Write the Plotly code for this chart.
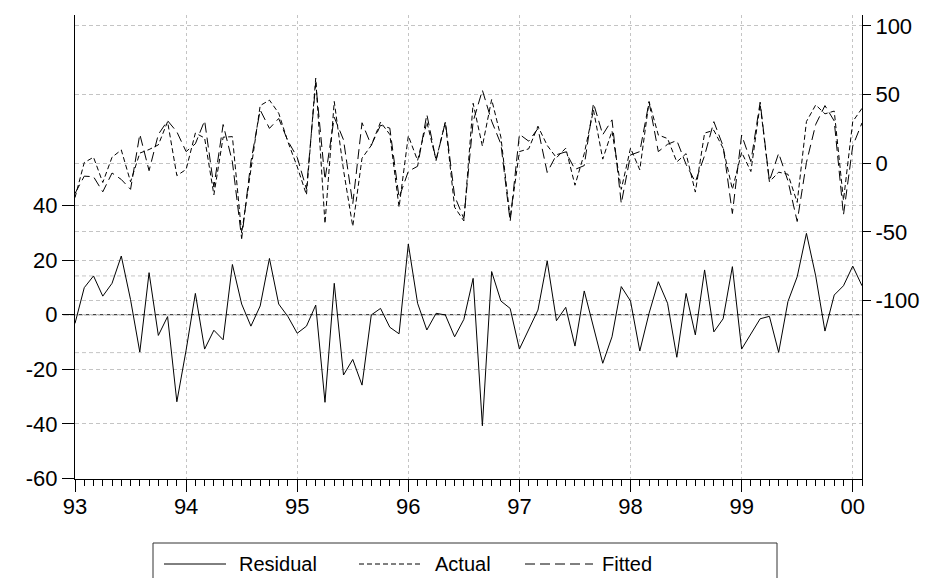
import plotly.graph_objects as go

# Monthly periods 1993M01 .. 2000M02
periods = [f"{1993 + (m // 12)}M{(m % 12) + 1:02d}" for m in range(86)]
year_labels = ["93", "94", "95", "96", "97", "98", "99", "00"]

residual = [-3.2, 9.9, 14.2, 6.8, 11.5, 21.5, 5.5, -13.7, 15.4, -7.6, -0.7, -31.9,
            -13.0, 7.8, -12.6, -5.7, -9.2, 18.4, 3.9, -4.2, 3.2, 20.6, 3.9, -0.7,
            -6.8, -4.2, 3.5, -32.1, 11.5, -22.1, -16.4, -25.8, -0.1, 2.3, -4.6, -7.0,
            25.9, 4.2, -5.6, 0.5, -0.1, -8.1, -1.7, 13.3, -40.7, 15.8, 5.0, 2.3,
            -12.6, -5.6, 1.7, 19.7, -2.2, 2.7, -11.5, 8.7, -5.0, -17.8, -8.1, 10.3,
            5.0, -13.3, 0.5, 12.1, 4.2, -15.6, 7.8, -7.4, 16.4, -6.3, -1.5, 17.6,
            -12.6, -7.2, -1.5, -0.6, -13.8, 4.8, 13.9, 29.8, 14.2, -6.0, 7.2, 10.6,
            17.8, 10.6]

actual = [-25.0, 0.5, 4.4, -14.0, 4.4, 9.7, -13.5, 7.4, 10.0, 13.4, 30.3, -9.0,
          -4.5, 22.0, 18.4, -23.0, 19.0, 19.4, -51.0, -3.0, 42.0, 46.0, 36.5, 15.5,
          -2.5, -23.0, 62.0, -44.0, 45.0, -5.0, -46.0, 3.7, 13.0, 30.0, 21.0, -32.0,
          20.0, 2.0, 30.0, 2.5, 30.0, -32.0, -42.0, 43.7, 12.5, 46.5, 19.0, -40.0,
          8.5, 10.5, 27.0, 13.0, 4.0, 11.0, -16.0, 7.0, 38.7, 3.0, 23.5, -19.0,
          11.0, -4.8, 45.0, 20.6, 18.0, 1.0, 7.0, -21.0, 22.0, 24.0, 11.0, -19.0,
          8.0, -6.0, 43.0, -13.5, -6.5, -8.0, -28.5, 30.4, 42.5, 36.0, 38.0, -27.0,
          30.4, 40.0]

fitted = [-22.0, -9.4, -9.8, -20.8, -7.1, -11.8, -19.0, 21.1, -5.4, 21.0, 31.0, 22.9,
          8.5, 14.2, 31.0, -17.3, 28.2, 1.0, -54.9, 1.2, 38.8, 25.4, 32.6, 16.2,
          4.3, -18.8, 58.5, -11.9, 33.5, 17.1, -29.6, 29.5, 13.1, 27.7, 25.6, -25.0,
          -5.9, -2.2, 35.6, 2.0, 30.1, -23.9, -40.3, 30.4, 53.2, 30.7, 14.0, -42.3,
          21.1, 16.1, 25.3, -6.7, 6.2, 8.3, -4.5, -1.7, 43.7, 20.8, 31.6, -29.3,
          6.0, 8.5, 44.5, 8.5, 13.8, 16.6, -0.8, -13.6, 5.6, 30.3, 12.5, -36.6,
          20.6, 1.2, 44.5, -12.9, 7.3, -12.8, -42.4, 0.6, 28.3, 42.0, 30.8, -37.6,
          12.6, 29.4]

se_band = [14.2, -13.9]  # +/- one standard error of the residuals

left_ticks = [-60, -40, -20, 0, 20, 40]
left_labels = ["-60", "-40", "-20", "0", "20", "40"]
right_ticks = [-100, -50, 0, 50, 100]
right_labels = ["-100", "-50", "0", "50", "100"]

x = list(range(len(periods)))
year_pos = [i for i, p in enumerate(periods) if p.endswith("M01")]

FONT = "Liberation Sans, Arial, sans-serif"
GRID = "#c4c4c4"

fig = go.Figure()
fig.add_trace(go.Scatter(x=x, y=residual, mode="lines", name="Residual",
                         line=dict(color="black", width=1), yaxis="y"))
fig.add_trace(go.Scatter(x=x, y=actual, mode="lines", name="Actual",
                         line=dict(color="black", width=1, dash="5px,3px"), yaxis="y2"))
fig.add_trace(go.Scatter(x=x, y=fitted, mode="lines", name="Fitted",
                         line=dict(color="black", width=1, dash="10px,5px"), yaxis="y2"))

shapes = []
for v in se_band:
    shapes.append(dict(type="line", xref="paper", x0=0, x1=1, yref="y", y0=v, y1=v,
                       line=dict(color=GRID, width=1, dash="4px,3px"), layer="below"))
# zero line of residuals
shapes.append(dict(type="line", xref="paper", x0=-0.015, x1=1, yref="y", y0=0, y1=0,
                   line=dict(color="#444444", width=1.2, dash="6px,1px"), layer="below"))

# manual legend box (bottom cut by page edge)
def px_x(X):
    return (X - 75) / 787.0

def px_y(Y):
    return (479 - Y) / 464.0

shapes.append(dict(type="rect", xref="paper", yref="paper",
                   x0=px_x(153), x1=px_x(777), y0=px_y(543), y1=px_y(600),
                   line=dict(color="#333333", width=1), fillcolor="rgba(0,0,0,0)"))
leg_y = px_y(564)
legend_items = [("Residual", "solid", 164, 226, 237),
                ("Actual", "5px,3px", 359, 422, 433),
                ("Fitted", "10px,5px", 525, 593, 600)]
annotations = []
for name, dash, x0, x1, tx in legend_items:
    shapes.append(dict(type="line", xref="paper", yref="paper",
                       x0=px_x(x0), x1=px_x(x1), y0=leg_y, y1=leg_y,
                       line=dict(color="black", width=1, dash=dash)))
    annotations.append(dict(xref="paper", yref="paper", x=px_x(tx), y=leg_y,
                            text=name, showarrow=False, xanchor="left", yanchor="middle",
                            font=dict(family=FONT, size=20, color="black")))

fig.update_layout(
    width=933, height=578,
    margin=dict(l=75, r=71, t=15, b=99),
    paper_bgcolor="white", plot_bgcolor="white",
    showlegend=False,
    font=dict(family=FONT, size=22, color="black"),
    xaxis=dict(range=[0, len(x) - 1], tickmode="array", tickvals=year_pos,
               ticktext=year_labels, ticks="outside", ticklen=12, tickcolor="black",
               ticklabelstandoff=-4,
               showline=True, linecolor="black", linewidth=1, mirror=False,
               showgrid=True, gridcolor=GRID, griddash="3px,3px", gridwidth=1,
               zeroline=False,
               minor=dict(tickmode="linear", tick0=0, dtick=1, ticks="outside",
                          ticklen=6, tickcolor="black", showgrid=False),
               tickfont=dict(size=22)),
    yaxis=dict(range=[-60.2, 109.8], tickmode="array", tickvals=left_ticks,
               ticktext=left_labels,
               ticks="outside", ticklen=12, tickcolor="black",
               showline=True, linecolor="black", linewidth=1,
               showgrid=True, gridcolor=GRID, griddash="4px,3px", gridwidth=1,
               zeroline=False, tickfont=dict(size=22)),
    yaxis2=dict(range=[-230, 108], overlaying="y", side="right", tickmode="array",
                tickvals=right_ticks, ticktext=right_labels,
                ticks="outside", ticklen=8, tickcolor="black",
                showline=True, linecolor="black", linewidth=1,
                showgrid=True, gridcolor=GRID, griddash="4px,3px", gridwidth=1,
                zeroline=False, tickfont=dict(size=22)),
    shapes=shapes,
    annotations=annotations,
)

fig.write_html("out.html")
